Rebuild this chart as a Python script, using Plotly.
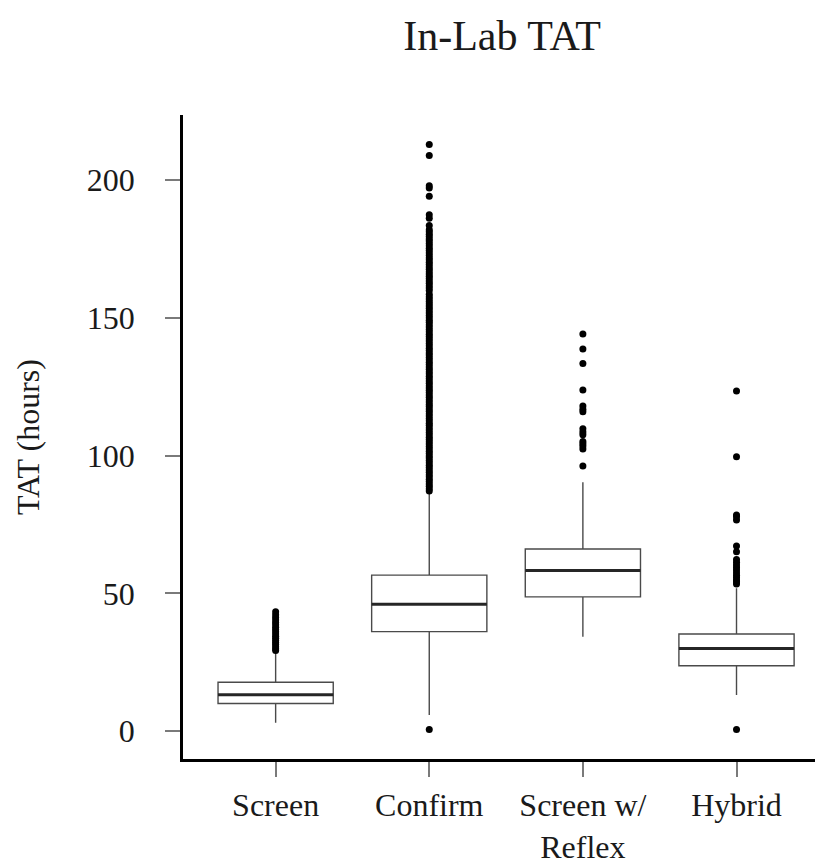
import plotly.graph_objects as go

# ---- data ----
categories = ["Screen", "Confirm", "Screen w/<br>Reflex", "Hybrid"]
positions = [1, 2, 3, 4]
q1 = [10.0, 36.1, 48.7, 23.7]
median = [13.2, 46.0, 58.3, 30.0]
q3 = [17.7, 56.6, 66.1, 35.2]
lower_whisker = [3.0, 5.8, 34.2, 13.1]
upper_whisker = [28.4, 86.7, 90.3, 51.8]

screen_outliers = [29.2, 29.9, 30.6, 31.4, 32.1, 32.9, 33.7, 34.4, 35.2, 36.0,
                   36.9, 37.7, 38.6, 39.4, 40.3, 41.2, 42.2, 43.3]
confirm_outliers = [0.5,
                    87.2, 88.0, 88.9, 89.7, 90.6, 91.4, 92.3, 93.1, 94.0, 94.8,
                    95.7, 96.5, 97.4, 98.2, 99.1, 99.9, 100.8, 101.6, 102.5, 103.3,
                    104.2, 105.0, 105.9, 106.7, 107.6, 108.4, 109.3, 110.1, 111.0, 111.8,
                    112.7, 113.5, 114.4, 115.2, 116.1, 116.9, 117.8, 118.6, 119.5, 120.3,
                    121.2, 122.0, 122.9, 123.7, 124.6, 125.4, 126.3, 127.1, 128.0, 128.8,
                    129.7, 130.5, 131.4, 132.2, 133.1, 133.9, 134.8, 135.6, 136.5, 137.3,
                    138.2, 139.0, 139.9, 140.7, 141.6, 142.4, 143.3, 144.1, 145.0, 145.8,
                    146.7, 147.5, 148.4, 149.2, 150.1, 150.9, 151.8, 152.6, 153.5, 154.3,
                    155.2, 156.0, 156.9, 157.7, 158.6, 160.0, 160.9, 161.7, 162.6, 163.4,
                    164.3, 165.1, 166.0, 166.8, 167.7, 168.5, 169.4, 170.2, 171.1, 171.9,
                    172.8, 173.6, 174.5, 175.3, 176.2, 177.0, 177.9, 178.7, 179.6, 180.4,
                    181.3, 182.0, 183.6, 186.2, 187.5, 194.2, 197.2, 198.0, 209.0, 213.0]
reflex_outliers = [96.2, 102.4, 103.5, 104.3, 105.1, 107.6, 108.6, 109.8, 115.9,
                   116.8, 118.0, 123.8, 133.5, 138.7, 144.2]
hybrid_outliers = [0.5, 53.4, 54.2, 54.8, 55.7, 56.6, 57.5, 58.5, 59.4, 60.3,
                   61.3, 62.3, 65.1, 67.2, 76.6, 77.8, 78.4, 99.6, 123.5]
outliers = [screen_outliers, confirm_outliers, reflex_outliers, hybrid_outliers]

y_ticks = [0, 50, 100, 150, 200]

FONT = "Liberation Serif, Times New Roman, serif"
TEXT = "#1a1a1a"
BOX_W = 0.75

fig = go.Figure()

for i, pos in enumerate(positions):
    fig.add_trace(go.Box(
        x=[pos], q1=[q1[i]], median=[median[i]], q3=[q3[i]],
        lowerfence=[lower_whisker[i]], upperfence=[upper_whisker[i]],
        width=BOX_W, whiskerwidth=0, boxpoints=False,
        fillcolor="white", line=dict(color="#4a4a4a", width=1.4),
        showlegend=False, hoverinfo="skip",
    ))
    # thick median line
    fig.add_trace(go.Scatter(
        x=[pos - BOX_W / 2, pos + BOX_W / 2], y=[median[i], median[i]],
        mode="lines", line=dict(color="#262626", width=3),
        showlegend=False, hoverinfo="skip",
    ))
    fig.add_trace(go.Scatter(
        x=[pos] * len(outliers[i]), y=outliers[i], mode="markers",
        marker=dict(color="black", size=7, line=dict(width=0)),
        showlegend=False, hoverinfo="skip",
    ))

# the page body has an 8px margin, so the figure is sized to end at the window edge
fig.update_layout(
    width=815, height=857,
    margin=dict(l=175, r=2, t=107, b=106, autoexpand=False),
    paper_bgcolor="white", plot_bgcolor="white",
    font=dict(family=FONT, size=32, color=TEXT),
    title=dict(text="In-Lab TAT", x=0.5, xref="paper", xanchor="center",
               y=0.985, yref="container", yanchor="top",
               font=dict(family=FONT, size=42, color=TEXT)),
    xaxis=dict(
        range=[0.397, 4.55], tickmode="array", tickvals=positions, ticktext=categories,
        showline=True, linecolor="black", linewidth=2.5, mirror=False,
        ticks="outside", ticklen=15, tickwidth=1.5, tickcolor="#7a7a7a",
        showgrid=False, zeroline=False, ticklabelstandoff=1, automargin=False,
        tickfont=dict(family=FONT, size=32, color=TEXT),
    ),
    yaxis=dict(
        range=[-10.17, 223.7], tickmode="array", tickvals=y_ticks,
        showline=True, linecolor="black", linewidth=2.5, mirror=False,
        ticks="outside", ticklen=15, tickwidth=1.5, tickcolor="#7a7a7a",
        showgrid=False, zeroline=False, ticklabelstandoff=24, automargin=False,
        tickfont=dict(family=FONT, size=32, color=TEXT),
        title=dict(text="TAT (hours)", standoff=38,
                   font=dict(family=FONT, size=32, color=TEXT)),
    ),
)

fig.write_html("out.html")
